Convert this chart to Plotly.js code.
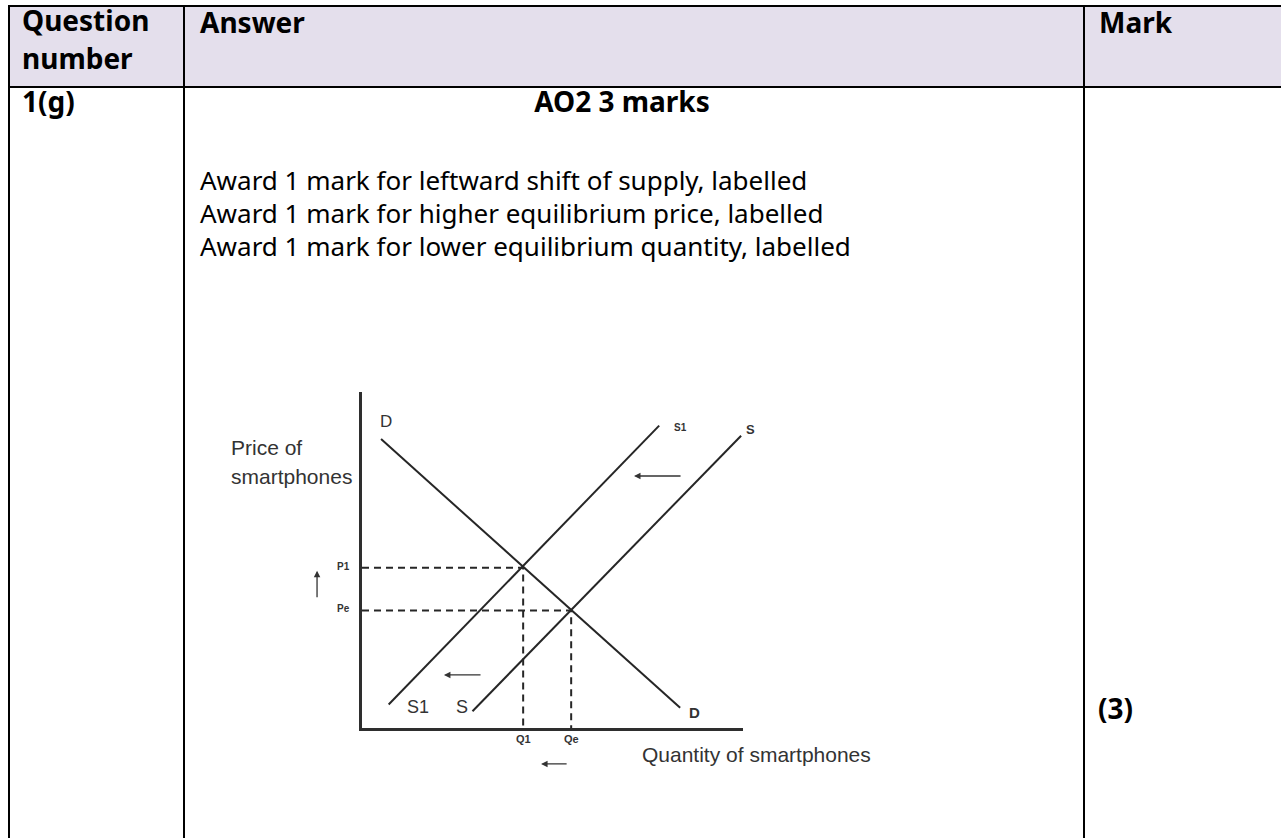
<!DOCTYPE html>
<html>
<head>
<meta charset="utf-8">
<script src="https://cdn.plot.ly/plotly-3.0.1.min.js"></script>
<style>
  html, body { margin: 0; padding: 0; background: #fff; width: 1281px; height: 838px; overflow: hidden; }
  body { position: relative; font-family: "Noto Sans", "Open Sans", sans-serif; color: #000; }
  .hdr { position: absolute; left: 10px; top: 7px; width: 1271px; height: 79px; background: #E4DFEC; }
  .ln  { position: absolute; background: #000; }
  .t   { position: absolute; white-space: nowrap; font-size: 26px; line-height: 33px; }
  .b   { font-weight: bold; font-size: 28px; line-height: 32px; }
  #chart { position: absolute; left: 200px; top: 370px; width: 700px; height: 460px; }
</style>
</head>
<body>

<!-- mark scheme table -->
<div class="hdr"></div>
<div class="ln" style="left:8px; top:5px; width:1273px; height:2px"></div>
<div class="ln" style="left:8px; top:86px; width:1273px; height:2px"></div>
<div class="ln" style="left:8px; top:5px; width:2px; height:833px"></div>
<div class="ln" style="left:183px; top:5px; width:2px; height:833px"></div>
<div class="ln" style="left:1083px; top:5px; width:2px; height:833px"></div>

<div class="t b" style="left:22px; top:4px">Question</div>
<div class="t b" style="left:22px; top:42px">number</div>
<div class="t b" style="left:200px; top:6px">Answer</div>
<div class="t b" style="left:1099px; top:6px">Mark</div>

<div class="t b" style="left:22px; top:85px">1(g)</div>
<div class="t b" style="left:185px; top:85px; width:874px; text-align:center">AO2 3 marks</div>

<div class="t" style="left:200px; top:164px">
Award 1 mark for leftward shift of supply, labelled<br>
Award 1 mark for higher equilibrium price, labelled<br>
Award 1 mark for lower equilibrium quantity, labelled
</div>

<div class="t b" style="left:1098px; top:692px">(3)</div>

<div id="chart"></div>

<script>
/* --- Supply shift diagram: values (axis units 0-10) --- */
const demandQ  = [0.5, 8.35];
const demandP  = [8.6, 0.6];
const supply1Q = [0.7, 7.8];
const supply1P = [0.7, 9.0];
const supplyQ  = [2.9, 9.95];
const supplyP  = [0.5, 8.7];

const eqNames = ['1', 'e'];
const eqQ = [4.23, 5.49];   // Q1, Qe
const eqP = [4.77, 3.5];    // P1, Pe

const INK = '#262626';
const TXT = '#333333';
const FONT = 'Liberation Sans, Arial, sans-serif';

function renderSupplyShift(containerId) {
  const curve = (x, y) => ({
    x: x, y: y, type: 'scatter', mode: 'lines',
    line: { color: INK, width: 2 }, hoverinfo: 'skip',
  });

  const traces = [
    curve(demandQ, demandP),
    curve(supply1Q, supply1P),
    curve(supplyQ, supplyP),
  ];

  eqQ.forEach((q, i) => {
    traces.push({
      x: [0, q, q], y: [eqP[i], eqP[i], 0],
      type: 'scatter', mode: 'lines',
      line: { color: INK, width: 2, dash: '7px,5px' }, hoverinfo: 'skip',
    });
  });

  // labels outside the axis range have to sit on paper coords, or plotly hides them
  const label = (xref, x, yref, y, text, size, bold, extra) => Object.assign({
    xref: xref, x: x, yref: yref, y: y, text: bold ? '<b>' + text + '</b>' : text,
    showarrow: false, font: { family: FONT, size: size, color: TXT },
  }, extra || {});

  const arrow = (o) => Object.assign({
    text: '', showarrow: true, arrowhead: 2, arrowsize: 1, arrowwidth: 1.3,
    arrowcolor: TXT, standoff: 0, startstandoff: 0,
  }, o);

  const annotations = [
    label('paper', -0.35, 'paper', 0.876, 'Price of', 21, false, { xanchor: 'left' }),
    label('paper', -0.35, 'paper', 0.79, 'smartphones', 21, false, { xanchor: 'left' }),
    label('paper', 0.73, 'paper', -0.119, 'Quantity of smartphones', 21, false, { xanchor: 'left' }),

    label('x', 0.64, 'y', 9.11, 'D', 17, false),
    label('x', 8.72, 'y', 0.45, 'D', 15, true),
    label('x', 8.35, 'y', 8.93, 'S1', 10, true),
    label('paper', 1.037, 'y', 8.87, 'S', 13, true),
    label('x', 1.47, 'y', 0.62, 'S1', 18, false),
    label('x', 2.62, 'y', 0.62, 'S', 18, false),
  ];

  eqNames.forEach((n, i) => {
    annotations.push(label('paper', -0.071, 'y', eqP[i] + 0.05, 'P' + n, 10, true));
    annotations.push(label('x', eqQ[i], 'paper', -0.057, 'Q' + n, 11, true));
  });

  // leftward shift arrows and the price rise arrow
  annotations.push(arrow({ xref: 'x', x: 7.14, yref: 'y', y: 7.5, axref: 'x', ax: 8.4, ayref: 'y', ay: 7.5 }));
  annotations.push(arrow({ xref: 'x', x: 2.15, yref: 'y', y: 1.58, axref: 'x', ax: 3.15, ayref: 'y', ay: 1.58 }));
  annotations.push(arrow({ xref: 'x', x: 4.7, yref: 'paper', y: -0.107, axref: 'x', ax: 5.41, ayref: 'pixel', ay: 0 }));
  annotations.push(arrow({ xref: 'paper', x: -0.118, yref: 'y', y: 4.68, axref: 'pixel', ax: 0, ayref: 'y', ay: 3.85 }));

  const axis = {
    range: [0, 10], showline: true, linecolor: '#2e2e2e', linewidth: 3,
    showgrid: false, zeroline: false, showticklabels: false, ticks: '', fixedrange: true,
  };

  const layout = {
    width: 700, height: 460,
    margin: { l: 162, r: 157, t: 22, b: 102, pad: 0 },
    paper_bgcolor: 'rgba(0,0,0,0)', plot_bgcolor: 'rgba(0,0,0,0)',
    showlegend: false,
    xaxis: axis, yaxis: axis,
    annotations: annotations,
  };

  Plotly.newPlot(containerId, traces, layout, { staticPlot: true, displayModeBar: false });
}

renderSupplyShift('chart');
</script>
</body>
</html>
